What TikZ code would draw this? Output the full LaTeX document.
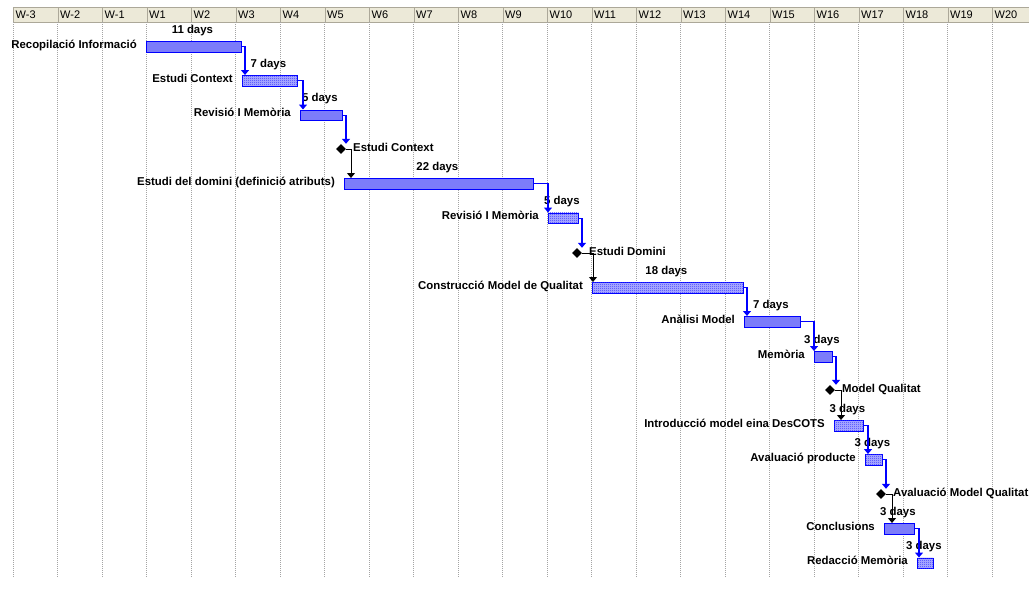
\documentclass[tikz,border=0pt]{standalone}
\usepackage{fontspec}
\setmainfont{Liberation Sans}
\usetikzlibrary{arrows.meta,shapes.geometric,patterns,calc}

\definecolor{hdrfill}{HTML}{ECE9D8}
\definecolor{hdrline}{HTML}{ACA899}
\definecolor{gridgray}{HTML}{A4A4A4}
\definecolor{barblue}{HTML}{0000FF}
\definecolor{barlight}{HTML}{7C7CFA}
\definecolor{barcheck}{HTML}{B4B4FF}

% 1x1 checkerboard texture used on some task bars
\pgfdeclarepatternformonly{finecheck}{\pgfqpoint{0pt}{0pt}}{\pgfqpoint{2pt}{2pt}}{\pgfqpoint{2pt}{2pt}}{%
  \pgfpathrectangle{\pgfqpoint{0pt}{0pt}}{\pgfqpoint{1pt}{1pt}}%
  \pgfpathrectangle{\pgfqpoint{1pt}{1pt}}{\pgfqpoint{1pt}{1pt}}%
  \pgfusepath{fill}}

\tikzset{
  hdr/.style={draw=hdrline, fill=hdrfill, anchor=north west, inner xsep=2.5pt, inner ysep=0pt,
              text width=39.5pt, minimum height=15pt, align=left,
              font=\fontsize{11}{12}\selectfont},
  gridline/.style={draw=gridgray, line width=0.9pt, dash pattern=on 1pt off 1pt},
  bar/.style={draw=barblue, line width=0.8pt, fill=barlight, anchor=north west,
              inner sep=0pt, minimum height=10.5pt},
  barchk/.style={bar, fill=barcheck, postaction={pattern=finecheck, pattern color=barblue!80}},
  lbl/.style={inner sep=0pt, font=\fontsize{11.4}{12}\selectfont\bfseries},
  dur/.style={lbl, anchor=base},
  tname/.style={lbl, anchor=base east},
  msname/.style={lbl, anchor=base west},
  ms/.style={diamond, aspect=1, fill=black, inner sep=0pt, minimum size=10pt},
  link/.style={draw=barblue, line width=1.3pt, -{Triangle[width=8pt,length=5pt]}},
  mslink/.style={draw=black, line width=0.9pt, -{Triangle[width=8pt,length=5pt]}}
}

\begin{document}
\begin{tikzpicture}[x=1pt,y=-1pt]
\useasboundingbox (0,0) rectangle (1029,589);
\clip (0,0) rectangle (1029,589);
\fill[white] (0,0) rectangle (1029,589);

% timescale header and weekly grid
\foreach \lab [count=\n] in {W-3,W-2,W-1,W1,W2,W3,W4,W5,W6,W7,W8,W9,W10,W11,W12,W13,W14,W15,W16,W17,W18,W19,W20}{
  \pgfmathsetmacro\xx{13+44.5*(\n-1)}
  \node[hdr] (h\n) at (\xx,7) {\lab};
  \draw[gridline] (h\n.south west) -- ++(0,556);
}

% task bars
\node[bar,    minimum width=95pt]  (t1)  at (146,41)  {};
\node[barchk, minimum width=55pt]  (t2)  at (242,75)  {};
\node[bar,    minimum width=42pt]  (t3)  at (300,109.5) {};
\node[bar,    minimum width=189pt] (t4)  at (344,178) {};
\node[barchk, minimum width=30pt]  (t5)  at (548,212.5) {};
\node[barchk, minimum width=151pt] (t6)  at (592,282) {};
\node[bar,    minimum width=56pt]  (t7)  at (744,316) {};
\node[bar,    minimum width=18pt]  (t8)  at (814,351) {};
\node[barchk, minimum width=29pt]  (t9)  at (834,420) {};
\node[barchk, minimum width=17pt]  (t10) at (865,454) {};
\node[bar,    minimum width=30pt]  (t11) at (884,523) {};
\node[barchk, minimum width=16pt]  (t12) at (917,557.5) {};

% milestones
\node[ms] (m1) at (341,149) {};
\node[ms] (m2) at (577,253) {};
\node[ms] (m3) at (830,390) {};
\node[ms] (m4) at (881,494) {};

% task names
\node[tname] (n1)  at ($(t1.north west)+(-9,7.3)$)  {Recopilació Informació};
\node[tname] (n2)  at ($(t2.north west)+(-9,7.3)$)  {Estudi Context};
\node[tname] (n3)  at ($(t3.north west)+(-9,7.3)$)  {Revisió I Memòria};
\node[tname] (n4)  at ($(t4.north west)+(-9,7.3)$)  {Estudi del domini (definició atributs)};
\node[tname] (n5)  at ($(t5.north west)+(-9,7.3)$)  {Revisió I Memòria};
\node[tname] (n6)  at ($(t6.north west)+(-9,7.3)$)  {Construcció Model de Qualitat};
\node[tname] (n7)  at ($(t7.north west)+(-9,7.3)$)  {Anàlisi Model};
\node[tname] (n8)  at ($(t8.north west)+(-9,7.3)$)  {Memòria};
\node[tname] (n9)  at ($(t9.north west)+(-9,7.3)$)  {Introducció model eina DesCOTS};
\node[tname] (n10) at ($(t10.north west)+(-9,7.3)$) {Avaluació producte};
\node[tname] (n11) at ($(t11.north west)+(-9,7.3)$) {Conclusions};
\node[tname] (n12) at ($(t12.north west)+(-9,7.3)$) {Redacció Memòria};

% milestone names
\node[msname] (mn1) at ($(m1)+(12,2)$) {Estudi Context};
\node[msname] (mn2) at ($(m2)+(12,2)$) {Estudi Domini};
\node[msname] (mn3) at ($(m3)+(12,2)$) {Model Qualitat};
\node[msname] (mn4) at ($(m4)+(12,2)$) {Avaluació Model Qualitat};

% durations
\node[dur] (d1)  at ($(t1.north)+(-1.5,-7.8)$)  {11 days};
\node[dur] (d2)  at ($(t2.north)+(-1.5,-7.8)$)  {7 days};
\node[dur] (d3)  at ($(t3.north)+(-1.5,-7.8)$)  {5 days};
\node[dur] (d4)  at ($(t4.north)+(-1.5,-7.8)$)  {22 days};
\node[dur] (d5)  at ($(t5.north)+(-1.5,-7.8)$)  {5 days};
\node[dur] (d6)  at ($(t6.north)+(-1.5,-7.8)$)  {18 days};
\node[dur] (d7)  at ($(t7.north)+(-1.5,-7.8)$)  {7 days};
\node[dur] (d8)  at ($(t8.north)+(-1.5,-7.8)$)  {3 days};
\node[dur] (d9)  at ($(t9.north)+(-1.5,-7.8)$)  {3 days};
\node[dur] (d10) at ($(t10.north)+(-1.5,-7.8)$) {3 days};
\node[dur] (d11) at ($(t11.north)+(-1.5,-7.8)$) {3 days};
\node[dur] (d12) at ($(t12.north)+(-1.5,-7.8)$) {3 days};

% finish-to-start links
\draw[link]   (t1.east)  -| ($(t2.north west)+(3,0)$);
\draw[link]   (t2.east)  -| ($(t3.north west)+(3,0)$);
\draw[link]   (t3.east)  -| ($(m1.north)+(5,0)$);
\draw[mslink] (m1.east)  -| ($(t4.north west)+(7,0)$);
\draw[link]   (t4.east)  -| ($(t5.north west)+(0,0)$);
\draw[link]   (t5.east)  -| ($(m2.north)+(5,0)$);
\draw[mslink] (m2.east)  -| ($(t6.north west)+(1,0)$);
\draw[link]   (t6.east)  -| ($(t7.north west)+(3,0)$);
\draw[link]   (t7.east)  -| ($(t8.north west)+(0,0)$);
\draw[link]   (t8.east)  -| ($(m3.north)+(6,0)$);
\draw[mslink] (m3.east)  -| ($(t9.north west)+(7,0)$);
\draw[link]   (t9.east)  -| ($(t10.north west)+(3,0)$);
\draw[link]   (t10.east) -| ($(m4.north)+(5,0)$);
\draw[mslink] (m4.east)  -| ($(t11.north west)+(8,0)$);
\draw[link]   (t11.east) -| ($(t12.north west)+(2,0)$);
\end{tikzpicture}
\end{document}
